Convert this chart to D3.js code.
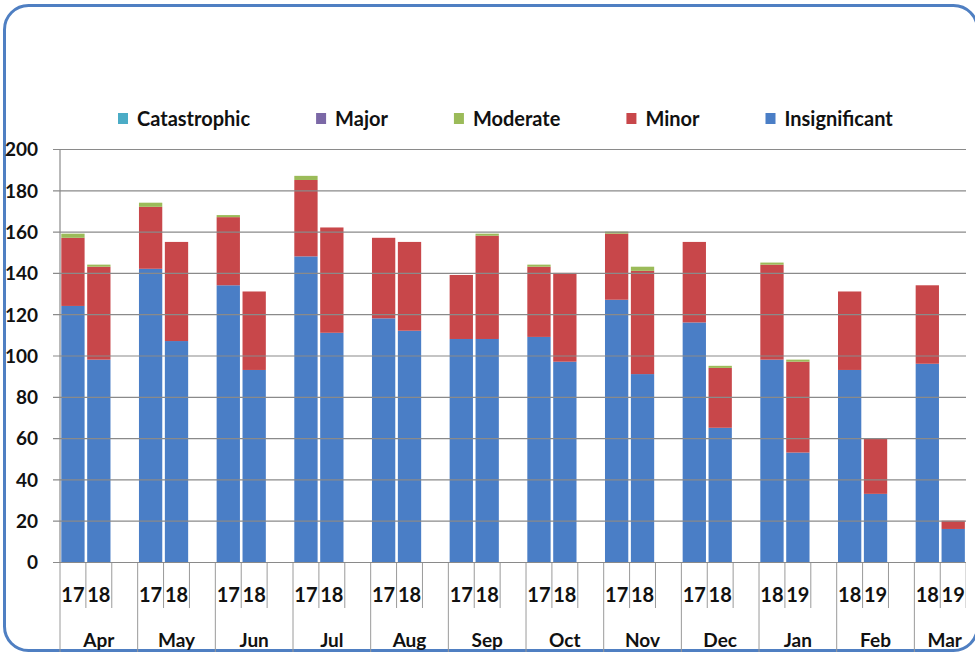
<!DOCTYPE html>
<html>
<head>
<meta charset="utf-8">
<script src="https://cdn.jsdelivr.net/npm/d3@7"></script>
<style>
  html, body { margin: 0; padding: 0; background: #ffffff; }
  svg { display: block; }
  text { font-family: Lato, "Open Sans", sans-serif; font-weight: bold; fill: #111; }
</style>
</head>
<body>
<svg id="chart" width="975" height="655"></svg>
<script>
// Monthly incident counts by severity, two financial years side by side
const months = ["Apr", "May", "Jun", "Jul", "Aug", "Sep", "Oct", "Nov", "Dec", "Jan", "Feb", "Mar"];
const yearLabels = [
  ["17", "18"], ["17", "18"], ["17", "18"], ["17", "18"], ["17", "18"], ["17", "18"],
  ["17", "18"], ["17", "18"], ["17", "18"], ["18", "19"], ["18", "19"], ["18", "19"]
];
const insignificant = [124, 98, 142, 107, 134, 93, 148, 111, 118, 112, 108, 108, 109, 97, 127, 91, 116, 65, 98, 53, 93, 33, 96, 16];
const minor         = [33, 45, 30, 48, 33, 38, 37, 51, 39, 43, 31, 50, 34, 43, 32, 50, 39, 29, 46, 44, 38, 27, 38, 4];
const moderate      = [2, 1, 2, 0, 1, 0, 2, 0, 0, 0, 0, 1, 1, 0, 1, 2, 0, 1, 1, 1, 0, 0, 0, 0];
const major         = [0, 0, 0, 0, 0, 0, 0, 0, 0, 0, 0, 0, 0, 0, 0, 0, 0, 0, 0, 0, 0, 0, 0, 0];
const catastrophic  = [0, 0, 0, 0, 0, 0, 0, 0, 0, 0, 0, 0, 0, 0, 0, 0, 0, 0, 0, 0, 0, 0, 0, 0];
const yTicks = [0, 20, 40, 60, 80, 100, 120, 140, 160, 180, 200];

const seriesNames  = ["Insignificant", "Minor", "Moderate", "Major", "Catastrophic"];
const seriesValues = [insignificant, minor, moderate, major, catastrophic];
const legendOrder  = ["Catastrophic", "Major", "Moderate", "Minor", "Insignificant"];
const colors = {
  Insignificant: "#4a7ec6",
  Minor: "#c8474a",
  Moderate: "#9bbb59",
  Major: "#7b68a6",
  Catastrophic: "#4bacc6"
};

// each month holds three slots: two years and a spacer
const slots = [];
months.forEach((m, i) => {
  slots.push({ key: m + "-a", month: m, label: yearLabels[i][0], idx: i * 2 });
  slots.push({ key: m + "-b", month: m, label: yearLabels[i][1], idx: i * 2 + 1 });
  slots.push({ key: m + "-gap", month: m, label: null, idx: null });
});

const rows = slots.filter(s => s.idx !== null).map(s => {
  const r = { key: s.key };
  seriesNames.forEach((n, k) => { r[n] = seriesValues[k][s.idx]; });
  return r;
});

const svg = d3.select("#chart");
const plotLeft = 60, plotRight = 966, plotTop = 149, plotBottom = 562;
const slotW = 25.89;

const x = d3.scaleBand()
  .domain(slots.map(s => s.key))
  .range([plotLeft, plotLeft + slotW * slots.length])
  .paddingInner(0.1)
  .paddingOuter(0.05);
const step = x.step();
const slotStart = k => plotLeft + slots.findIndex(s => s.key === k) * step;

const y = d3.scaleLinear().domain([0, 200]).range([plotBottom, plotTop]);

svg.append("defs").append("clipPath").attr("id", "clip")
  .append("rect").attr("x", 0).attr("y", 0).attr("width", plotRight).attr("height", 655);

// rounded frame (its right edge runs just past the page)
svg.append("rect")
  .attr("x", 4.5).attr("y", 5.5).attr("width", 973).attr("height", 645)
  .attr("rx", 24).attr("ry", 24)
  .attr("fill", "#ffffff").attr("stroke", "#4f7fc2").attr("stroke-width", 3);

const g = svg.append("g").attr("clip-path", "url(#clip)");

// gridlines and value axis
const yAxis = d3.axisLeft(y).tickValues(yTicks).tickSize(plotRight - plotLeft + 7).tickPadding(14);
const ya = svg.append("g").attr("transform", `translate(${plotRight},0)`).call(yAxis);
ya.select(".domain").remove();
ya.selectAll(".tick line").attr("stroke", "#8a8a8a").attr("stroke-width", 1.2);
ya.selectAll(".tick text")
  .attr("x", -(plotRight - 38)).attr("text-anchor", "end")
  .style("font-size", "19px").attr("fill", "#111").attr("dy", "0.36em");

svg.append("line")
  .attr("x1", plotLeft).attr("x2", plotLeft).attr("y1", plotTop).attr("y2", plotBottom)
  .attr("stroke", "#8a8a8a").attr("stroke-width", 1.2);

// stacked bars
const stack = d3.stack().keys(seriesNames);
const layers = stack(rows);
g.selectAll("g.layer").data(layers).join("g")
  .attr("class", "layer")
  .attr("fill", d => colors[d.key])
  .selectAll("rect").data(d => d).join("rect")
  .attr("x", d => x(d.data.key))
  .attr("width", x.bandwidth())
  .attr("y", d => y(d[1]))
  .attr("height", d => y(d[0]) - y(d[1]));

// category axis: dividers between slots and months
const axisG = g.append("g");
slots.forEach((s, i) => {
  const xx = plotLeft + i * step;
  const isMonth = i % 3 === 0;
  axisG.append("line")
    .attr("x1", xx).attr("x2", xx)
    .attr("y1", plotBottom).attr("y2", isMonth ? 652 : 608)
    .attr("stroke", "#9a9a9a").attr("stroke-width", 1);
});

// year labels
svg.append("g").selectAll("text")
  .data(slots.filter(s => s.label))
  .join("text")
  .attr("x", d => x(d.key) + x.bandwidth() / 2)
  .attr("y", 602)
  .attr("text-anchor", "middle")
  .style("font-size", "20px")
  .text(d => d.label);

// month labels, centred on the visible part of each group
svg.append("g").selectAll("text")
  .data(months)
  .join("text")
  .attr("x", m => {
    const a = slotStart(m + "-a");
    const b = Math.min(a + 3 * step, 975);
    return (a + b) / 2;
  })
  .attr("y", 647)
  .attr("text-anchor", "middle")
  .style("font-size", "19px")
  .text(m => m);

// legend
const legend = svg.append("g").attr("transform", "translate(118,0)");
let lx = 0;
legendOrder.forEach(name => {
  const item = legend.append("g").attr("transform", `translate(${lx},0)`);
  item.append("rect").attr("x", 0).attr("y", 113).attr("width", 10).attr("height", 11)
    .attr("fill", colors[name]);
  const t = item.append("text").attr("x", 19).attr("y", 126)
    .style("font-size", "20px").text(name);
  lx += 19 + t.node().getComputedTextLength() + 66;
});
</script>
</body>
</html>
